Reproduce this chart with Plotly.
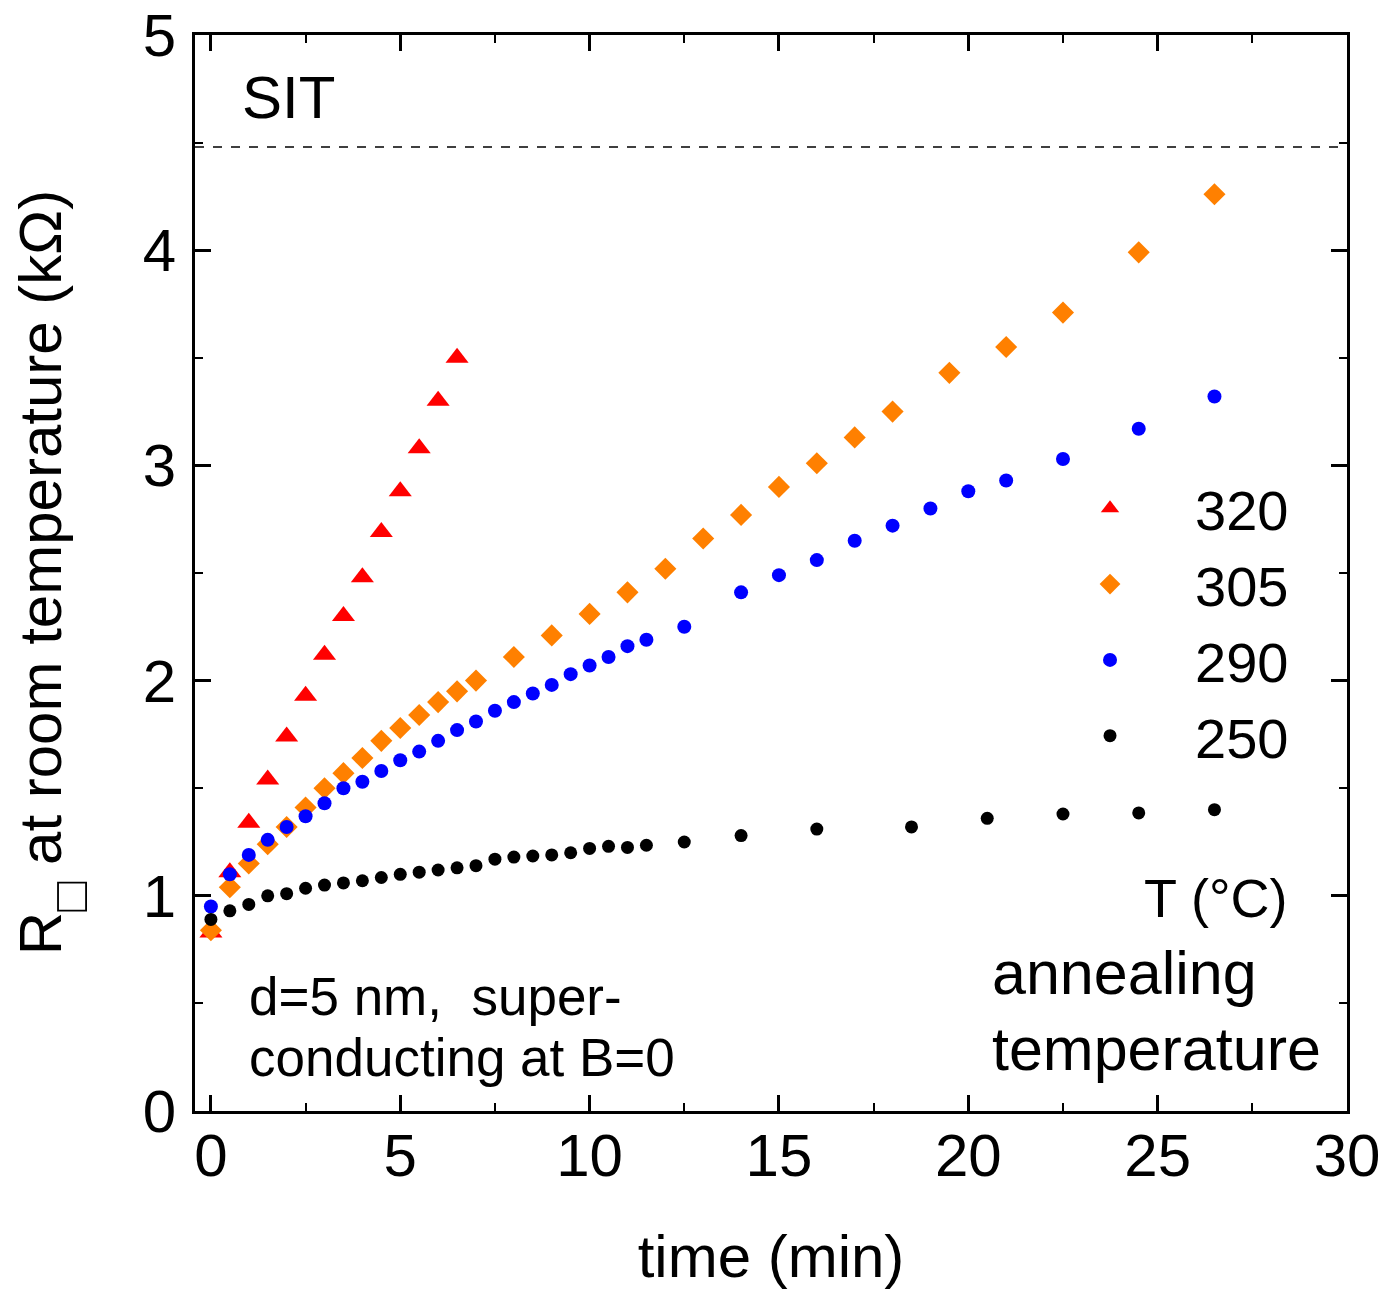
import plotly.graph_objects as go

# ---------------- data ----------------
t_320 = [0, 0.5, 1, 1.5, 2, 2.5, 3, 3.5, 4, 4.5, 5, 5.5, 6, 6.5]
r_320 = [0.83, 1.11, 1.34, 1.54, 1.74, 1.93, 2.12, 2.30, 2.48, 2.69, 2.88, 3.08, 3.30, 3.50]

t_305 = [0, 0.5, 1, 1.5, 2, 2.5, 3, 3.5, 4, 4.5, 5, 5.5, 6, 6.5, 7,
         8, 9, 10, 11, 12, 13, 14, 15, 16, 17, 18, 19.5, 21, 22.5, 24.5, 26.5]
r_305 = [0.84, 1.04, 1.15, 1.24, 1.32, 1.41, 1.50, 1.57, 1.64, 1.72, 1.78, 1.84, 1.90, 1.95, 2.00,
         2.11, 2.21, 2.31, 2.41, 2.52, 2.66, 2.77, 2.90, 3.01, 3.13, 3.25, 3.43, 3.55, 3.71, 3.99, 4.26]

t_290 = [0, 0.5, 1, 1.5, 2, 2.5, 3, 3.5, 4, 4.5, 5, 5.5, 6, 6.5, 7, 7.5, 8, 8.5, 9, 9.5,
         10, 10.5, 11, 11.5, 12.5, 14, 15, 16, 17, 18, 19, 20, 21, 22.5, 24.5, 26.5]
r_290 = [0.95, 1.10, 1.19, 1.26, 1.32, 1.37, 1.43, 1.50, 1.53, 1.58, 1.63, 1.67, 1.72, 1.77, 1.81,
         1.86, 1.90, 1.94, 1.98, 2.03, 2.07, 2.11, 2.16, 2.19, 2.25, 2.41, 2.49, 2.56, 2.65, 2.72,
         2.80, 2.88, 2.93, 3.03, 3.17, 3.32]

t_250 = [0, 0.5, 1, 1.5, 2, 2.5, 3, 3.5, 4, 4.5, 5, 5.5, 6, 6.5, 7, 7.5, 8, 8.5, 9, 9.5,
         10, 10.5, 11, 11.5, 12.5, 14, 16, 18.5, 20.5, 22.5, 24.5, 26.5]
r_250 = [0.89, 0.93, 0.96, 1.00, 1.01, 1.035, 1.05, 1.06, 1.07, 1.085, 1.10, 1.11, 1.12, 1.13, 1.14,
         1.17, 1.18, 1.185, 1.19, 1.20, 1.22, 1.23, 1.225, 1.235, 1.25, 1.28, 1.31, 1.32, 1.36, 1.38,
         1.385, 1.40]

SIT_LEVEL = 4.48
x_ticks = [0, 5, 10, 15, 20, 25, 30]
y_ticks = [0, 1, 2, 3, 4, 5]

FONT = "Liberation Sans, Arial, sans-serif"

fig = go.Figure()
fig.add_trace(go.Scatter(x=t_320, y=r_320, mode="markers", name="320",
                         marker=dict(symbol="triangle-up", size=20, color="#ff0000", line=dict(width=0))))
fig.add_trace(go.Scatter(x=t_305, y=r_305, mode="markers", name="305",
                         marker=dict(symbol="diamond", size=17, color="#ff8000", line=dict(width=0))))
fig.add_trace(go.Scatter(x=t_290, y=r_290, mode="markers", name="290",
                         marker=dict(symbol="circle", size=14, color="#0000ff", line=dict(width=0))))
fig.add_trace(go.Scatter(x=t_250, y=r_250, mode="markers", name="250",
                         marker=dict(symbol="circle", size=13, color="#000000", line=dict(width=0))))

fig.add_hline(y=SIT_LEVEL, line=dict(color="black", width=1.5, dash="dash"))

axis_common = dict(
    showline=True, linecolor="black", linewidth=3, mirror="allticks",
    ticks="inside", ticklen=16, tickwidth=3, tickcolor="black",
    showgrid=False, zeroline=False, automargin=False,
    tickfont=dict(family=FONT, size=60, color="black"),
)

fig.update_xaxes(range=[-0.42, 30], tickvals=x_ticks, ticklabelstandoff=-10,
                 minor=dict(dtick=2.5, ticks="inside", ticklen=8, tickwidth=2, tickcolor="black"),
                 title=dict(text="time (min)", font=dict(family=FONT, size=60, color="black"), standoff=50),
                 **axis_common)
fig.update_yaxes(range=[0, 5], tickvals=y_ticks, ticklabelstandoff=4,
                 minor=dict(dtick=0.5, ticks="inside", ticklen=8, tickwidth=2, tickcolor="black"),
                 **axis_common)

ann_font = dict(family=FONT, color="black")
# y-axis title
fig.add_annotation(xref="paper", yref="paper", x=-0.124, y=0.5, textangle=-90,
                   text="R<sub><span style=\"font-size:50px;baseline-shift:-13px\">□</span></sub> at room temperature (kΩ)",
                   showarrow=False, xanchor="center", yanchor="middle",
                   font=dict(size=60, **ann_font))
fig.add_annotation(x=0.77, y=4.71, text="SIT", showarrow=False, xanchor="left", yanchor="middle",
                   font=dict(size=60, **ann_font))
fig.add_annotation(x=0.95, y=0.53, text="d=5 nm,  super-", showarrow=False, xanchor="left", yanchor="middle",
                   font=dict(size=53, **ann_font))
fig.add_annotation(x=0.95, y=0.25, text="conducting at B=0", showarrow=False, xanchor="left", yanchor="middle",
                   font=dict(size=53, **ann_font))
fig.add_annotation(x=28.49, y=0.99, text="T (°C)", showarrow=False, xanchor="right", yanchor="middle",
                   font=dict(size=54, **ann_font))
fig.add_annotation(x=20.57, y=0.64, text="annealing", showarrow=False, xanchor="left", yanchor="middle",
                   font=dict(size=61, **ann_font))
fig.add_annotation(x=20.57, y=0.29, text="temperature", showarrow=False, xanchor="left", yanchor="middle",
                   font=dict(size=61, **ann_font))

fig.update_layout(
    width=1387, height=1290,
    margin=dict(l=195, r=40, t=35, b=179),
    paper_bgcolor="white", plot_bgcolor="white",
    font=dict(family=FONT, color="black"),
    showlegend=True,
    legend=dict(x=0.7205, y=0.60, xanchor="left", yanchor="top",
                font=dict(family=FONT, size=56, color="black"),
                bgcolor="rgba(0,0,0,0)", itemwidth=160, tracegroupgap=0),
)

fig.write_html("out.html", config={"displayModeBar": False})
